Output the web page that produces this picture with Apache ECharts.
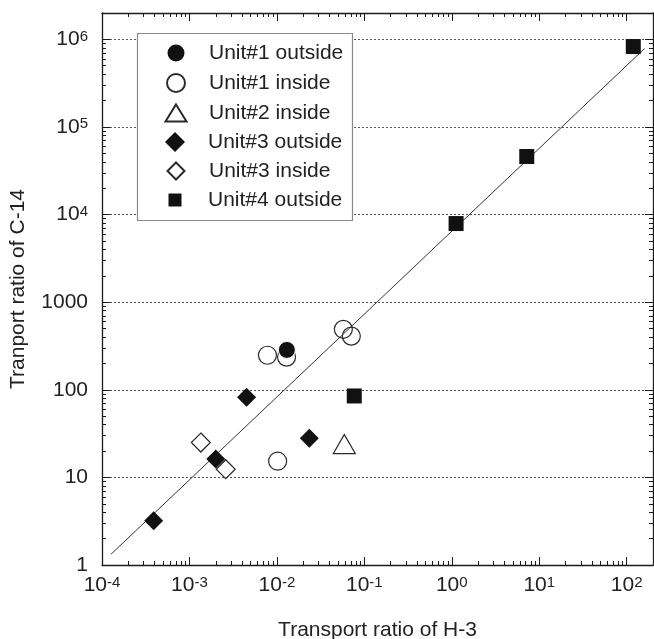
<!DOCTYPE html>
<html>
<head>
<meta charset="utf-8">
<script src="https://cdn.jsdelivr.net/npm/echarts@6/dist/echarts.min.js"></script>
<style>
  html, body { margin: 0; padding: 0; background: #fff; }
  #chart { width: 654px; height: 639px; }
</style>
</head>
<body>
<div id="chart"></div>
<script>
// ---- data ----
const unit1Outside = [[0.013, 285]];
const unit1Inside = [[0.0078, 248], [0.0129, 236], [0.0102, 15.3], [0.0575, 490], [0.071, 410]];
const unit2Inside = [[0.059, 24]];
const unit3Outside = [[0.00039, 3.2], [0.0020, 16.2], [0.0045, 82], [0.0235, 28]];
const unit3Inside = [[0.00135, 25], [0.0026, 12.4]];
const unit4Outside = [[0.0767, 85], [1.12, 7900], [7.2, 46000], [119, 828000]];
const fitLine = [[1.27e-4, 1.33], [160, 785000]];

const xTickValues = [1e-4, 1e-3, 1e-2, 1e-1, 1, 10, 100];
const yTickValues = [1, 10, 100, 1000, 1e4, 1e5, 1e6];
const xRange = [1e-4, 200];
const yRange = [1, 2e6];

const seriesNames = ['Unit#1 outside', 'Unit#1 inside', 'Unit#2 inside', 'Unit#3 outside', 'Unit#3 inside', 'Unit#4 outside'];

// minor (log) ticks: 2..9 within each decade
function minorTicks(majors, max) {
  const out = [];
  majors.forEach(d => { for (let k = 2; k <= 9; k++) { const v = d * k; if (v <= max * 1.0001) out.push(v); } });
  return out;
}
const xMinor = minorTicks(xTickValues, xRange[1]);
const yMinor = minorTicks(yTickValues, yRange[1]);

const FONT = 'Liberation Sans';
const TXT = '#222';
const AX = '#1a1a1a';

const rich = {
  b: { fontSize: 21, lineHeight: 21, fontFamily: FONT, color: TXT, verticalAlign: 'bottom' },
  s: { fontSize: 15, lineHeight: 9, fontFamily: FONT, color: TXT, verticalAlign: 'top' }
};

function expLabel(v) {
  const e = Math.round(Math.log10(v));
  return '{b|10}{s|' + e + '}';
}

function baseAxis(extra) {
  return Object.assign({
    type: 'log',
    logBase: 10,
    axisLine: { show: true, lineStyle: { color: AX, width: 1.3 } },
    axisLabel: { show: false },
    splitLine: { show: false },
    minorTick: { show: false },
    minorSplitLine: { show: false }
  }, extra);
}

function majorTick(vals) { return { show: true, inside: true, length: 8, customValues: vals, lineStyle: { color: AX, width: 1 } }; }
function minorTick(vals) { return { show: true, inside: true, length: 4, customValues: vals, lineStyle: { color: AX, width: 1 } }; }

const xAxes = [
  baseAxis({
    gridIndex: 0, position: 'bottom', min: xRange[0], max: xRange[1],
    axisTick: majorTick(xTickValues),
    axisLabel: { show: true, customValues: xTickValues, margin: 10, fontSize: 21, fontFamily: FONT, color: TXT, formatter: expLabel, rich: rich },
    name: 'Transport ratio of H-3', nameLocation: 'middle', nameGap: 53,
    nameTextStyle: { fontSize: 21, fontFamily: FONT, color: TXT, lineHeight: 24 }
  }),
  baseAxis({ gridIndex: 0, position: 'bottom', min: xRange[0], max: xRange[1], axisLine: { show: false }, axisTick: minorTick(xMinor) }),
  baseAxis({ gridIndex: 0, position: 'top', min: xRange[0], max: xRange[1], axisTick: majorTick(xTickValues) }),
  baseAxis({ gridIndex: 0, position: 'top', min: xRange[0], max: xRange[1], axisLine: { show: false }, axisTick: minorTick(xMinor) })
];

const yAxes = [
  baseAxis({
    gridIndex: 0, position: 'left', min: yRange[0], max: yRange[1],
    axisTick: majorTick(yTickValues),
    axisLabel: {
      show: true, customValues: yTickValues, margin: 14, fontSize: 21, fontFamily: FONT, color: TXT,
      formatter: v => (v >= 1e4 ? expLabel(v) : String(Math.round(v))),
      rich: rich
    },
    splitLine: { show: true, lineStyle: { color: '#555', width: 1, type: [2, 2] } },
    name: 'Tranport ratio of C-14', nameLocation: 'middle', nameGap: 66, nameRotate: 90,
    nameTextStyle: { fontSize: 21, fontFamily: FONT, color: TXT, lineHeight: 24 }
  }),
  baseAxis({ gridIndex: 0, position: 'left', min: yRange[0], max: yRange[1], axisLine: { show: false }, axisTick: minorTick(yMinor) }),
  baseAxis({ gridIndex: 0, position: 'right', min: yRange[0], max: yRange[1], axisTick: majorTick(yTickValues) }),
  baseAxis({ gridIndex: 0, position: 'right', min: yRange[0], max: yRange[1], axisLine: { show: false }, axisTick: minorTick(yMinor) })
];

const FILL = '#111111';
const OPEN = { color: 'rgba(255,255,255,0)', borderColor: '#2a2a2a', borderWidth: 1.2, opacity: 1 };
const SOLID = { color: FILL, borderColor: FILL, borderWidth: 0, opacity: 1 };

const series = [
  { name: 'fit', type: 'line', data: fitLine, showSymbol: false, symbol: 'none', lineStyle: { color: '#333', width: 1 }, z: 1, silent: true },
  { name: seriesNames[1], type: 'scatter', data: unit1Inside, symbol: 'circle', symbolSize: 18, itemStyle: OPEN, z: 2 },
  { name: seriesNames[2], type: 'scatter', data: unit2Inside, symbol: 'triangle', symbolSize: [22, 19], itemStyle: OPEN, z: 2 },
  { name: seriesNames[4], type: 'scatter', data: unit3Inside, symbol: 'diamond', symbolSize: [19, 19], itemStyle: OPEN, z: 2 },
  { name: seriesNames[0], type: 'scatter', data: unit1Outside, symbol: 'circle', symbolSize: 17, itemStyle: { color: FILL, borderColor: '#fff', borderWidth: 1, opacity: 1 }, z: 3 },
  { name: seriesNames[3], type: 'scatter', data: unit3Outside, symbol: 'diamond', symbolSize: [19, 19], itemStyle: SOLID, z: 3 },
  { name: seriesNames[5], type: 'scatter', data: unit4Outside, symbol: 'rect', symbolSize: 15, itemStyle: SOLID, z: 3 }
];
series.forEach(s => { s.emphasis = { disabled: true }; s.animation = false; });

// legend: one per row so each icon keeps its own size
const legendRows = [
  { name: seriesNames[0], w: 19, h: 19 },
  { name: seriesNames[1], w: 18, h: 18 },
  { name: seriesNames[2], w: 21, h: 17 },
  { name: seriesNames[3], w: 20, h: 20 },
  { name: seriesNames[4], w: 17, h: 17 },
  { name: seriesNames[5], w: 13, h: 13 }
];
const rowCenters = [53, 83, 113, 142, 171, 200];
const iconCx = 175, textX = 208, TEXT_H = 21;
const legends = legendRows.map((r, i) => ({
  data: [r.name],
  orient: 'vertical',
  left: iconCx - r.w / 2,
  top: rowCenters[i] - Math.max(r.h, TEXT_H) / 2,
  padding: 0,
  itemWidth: r.w,
  itemHeight: r.h,
  selectedMode: false,
  z: 5,
  textStyle: { fontSize: 21, fontFamily: FONT, color: TXT, lineHeight: TEXT_H, padding: [0, 0, 0, textX - (iconCx + r.w / 2 + 5)] }
}));

const chart = echarts.init(document.getElementById('chart'), null, { renderer: 'canvas' });
chart.setOption({
  animation: false,
  backgroundColor: '#fff',
  textStyle: { fontFamily: FONT },
  grid: { left: 102, right: 1, top: 13, bottom: 74, containLabel: false, outerBoundsMode: 'none' },
  xAxis: xAxes,
  yAxis: yAxes,
  legend: legends,
  graphic: [{
    type: 'rect', z: 4, silent: true,
    shape: { x: 137.5, y: 33.5, width: 215, height: 187 },
    style: { fill: '#fff', stroke: '#8a8a8a', lineWidth: 1.2 }
  }],
  tooltip: { show: false },
  series: series
});
</script>
</body>
</html>
